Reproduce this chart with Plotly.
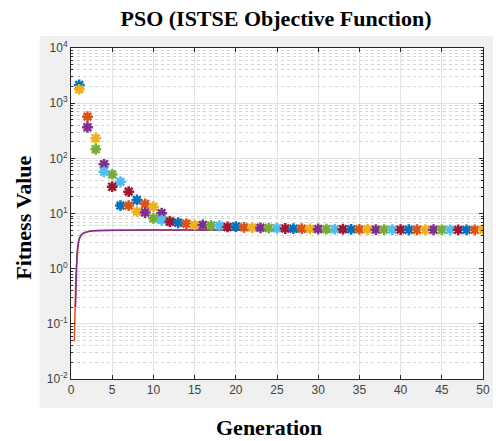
import plotly.graph_objects as go

# MATLAB default colour order
palette = ["#0072BD", "#D95319", "#EDB120", "#7E2F8E", "#77AC30", "#4DBEEE", "#A2142F"]

# Generation-wise fitness (one marker per generation)
generations = list(range(1, 51))
fitness_best = [1780, 366, 146, 57, 30.6, 13.9, 13.9, 10.8, 10.4, 8.2,
                7.6, 7.1, 6.8, 6.5, 6.2, 6.2, 6.05, 6.0, 5.7, 5.8,
                5.6, 5.5, 5.5, 5.45, 5.4, 5.35, 5.3, 5.3, 5.25, 5.25,
                5.2, 5.2, 5.2, 5.15, 5.15, 5.15, 5.1, 5.1, 5.1, 5.1,
                5.08, 5.08, 5.07, 5.07, 5.06, 5.06, 5.05, 5.05, 5.05, 5.05]

# Second swarm value for the early generations
gen_early = list(range(1, 13))
fitness_second = [2140, 570, 231, 78, 51, 37.7, 24.9, 17.6, 14.9, 13.3, 10.1, 7.3]

# Two convergence curves
curve_a_x = [0.40, 0.43, 0.47, 0.52, 0.58, 0.65, 0.72, 0.80, 0.90, 1.0, 1.15, 1.3,
             1.5, 1.8, 2.2, 2.7, 3.5, 5.0, 10, 20, 30, 40, 50]
curve_a_y = [0.048, 0.1, 0.2, 0.4, 0.7, 1.1, 1.7, 2.4, 3.1, 3.5, 3.9, 4.2,
             4.4, 4.6, 4.75, 4.85, 4.92, 4.97, 5.0, 5.0, 5.0, 5.0, 5.0]
curve_b_x = [0.55, 0.58, 0.62, 0.66, 0.72, 0.80, 0.90, 1.0, 1.15, 1.3,
             1.5, 1.8, 2.2, 2.7, 3.5, 5.0, 10, 20, 30, 40, 50]
curve_b_y = [0.2, 0.45, 0.75, 1.1, 1.7, 2.4, 3.1, 3.5, 3.9, 4.2,
             4.4, 4.6, 4.75, 4.85, 4.92, 4.97, 5.0, 5.0, 5.0, 5.0, 5.0]

x_ticks = list(range(0, 51, 5))
y_tickvals = [1e-2, 1e-1, 1e0, 1e1, 1e2, 1e3, 1e4]
y_ticktext = ["10<sup>-2</sup>", "10<sup>-1</sup>", "10<sup>0</sup>", "10<sup>1</sup>",
              "10<sup>2</sup>", "10<sup>3</sup>", "10<sup>4</sup>"]

best_colors = [palette[(g + 1) % 7] for g in generations]
second_colors = [palette[(g - 1) % 7] for g in gen_early]

fig = go.Figure()
fig.add_trace(go.Scatter(x=curve_a_x, y=curve_a_y, mode="lines",
                         line=dict(color=palette[1], width=1.5)))
fig.add_trace(go.Scatter(x=curve_b_x, y=curve_b_y, mode="lines",
                         line=dict(color=palette[3], width=1.5)))
fig.add_trace(go.Scatter(x=gen_early, y=fitness_second, mode="markers",
                         marker=dict(symbol="asterisk-open", size=9, color=second_colors,
                                     line=dict(color=second_colors, width=2.5))))
fig.add_trace(go.Scatter(x=generations, y=fitness_best, mode="markers",
                         marker=dict(symbol="asterisk-open", size=9, color=best_colors,
                                     line=dict(color=best_colors, width=2.5))))

W, H = 496, 441
L, R, T, B = 71, 6, 48, 62
pw, ph = W - L - R, H - T - B

def px_x(p):
    return (p - L) / pw

def px_y(p):
    return (H - B - p) / ph

# grey figure panel, with the white axes area on top of it (both under the grid)
fig.add_shape(type="rect", xref="paper", yref="paper",
              x0=px_x(39), x1=px_x(500), y0=px_y(408), y1=px_y(36),
              fillcolor="#f0f0f0", line=dict(width=0), layer="below")
fig.add_shape(type="rect", xref="paper", yref="paper",
              x0=0, x1=1, y0=0, y1=1,
              fillcolor="white", line=dict(width=0), layer="below")

tick_font = dict(family="Liberation Sans, Arial", size=12, color="#404040")
label_font = dict(family="Liberation Serif, Times New Roman", size=22, color="#000000", weight="bold")

fig.update_layout(
    width=W, height=H,
    margin=dict(l=L, r=R, t=T, b=B),
    paper_bgcolor="white", plot_bgcolor="white",
    showlegend=False,
    title=dict(text="PSO (ISTSE Objective Function)", font=label_font,
               xref="container", yref="container", x=276 / W, xanchor="center",
               y=1 - 18 / H, yanchor="middle"),
    annotations=[
        dict(text="Generation", font=label_font, xref="paper", yref="paper",
             x=px_x(272), y=px_y(427), xanchor="center", yanchor="middle", showarrow=False),
        dict(text="Fitness Value", font=label_font, xref="paper", yref="paper",
             x=px_x(23), y=px_y(218), xanchor="center", yanchor="middle",
             textangle=-90, showarrow=False),
    ],
)

fig.update_xaxes(range=[0, 50], tickvals=x_ticks, showline=True, mirror="allticks",
                 linecolor="#262626", linewidth=1, ticks="inside", ticklen=4,
                 tickcolor="#262626", tickfont=tick_font, showgrid=True,
                 gridcolor="#e2e2e2", gridwidth=1, zeroline=False,
                 ticklabeloverflow="allow")
fig.update_yaxes(type="log", range=[-2, 4], tickvals=y_tickvals, ticktext=y_ticktext,
                 showline=True, mirror="allticks", linecolor="#262626", linewidth=1,
                 ticks="inside", ticklen=4, tickcolor="#262626", tickfont=tick_font,
                 showgrid=True, gridcolor="#e2e2e2", gridwidth=1, zeroline=False,
                 minor=dict(dtick="D1", showgrid=True, griddash="dot",
                            gridcolor="#d4d4d4", gridwidth=1, ticks="inside",
                            ticklen=2, tickcolor="#262626"))

fig.write_html("out.html")
